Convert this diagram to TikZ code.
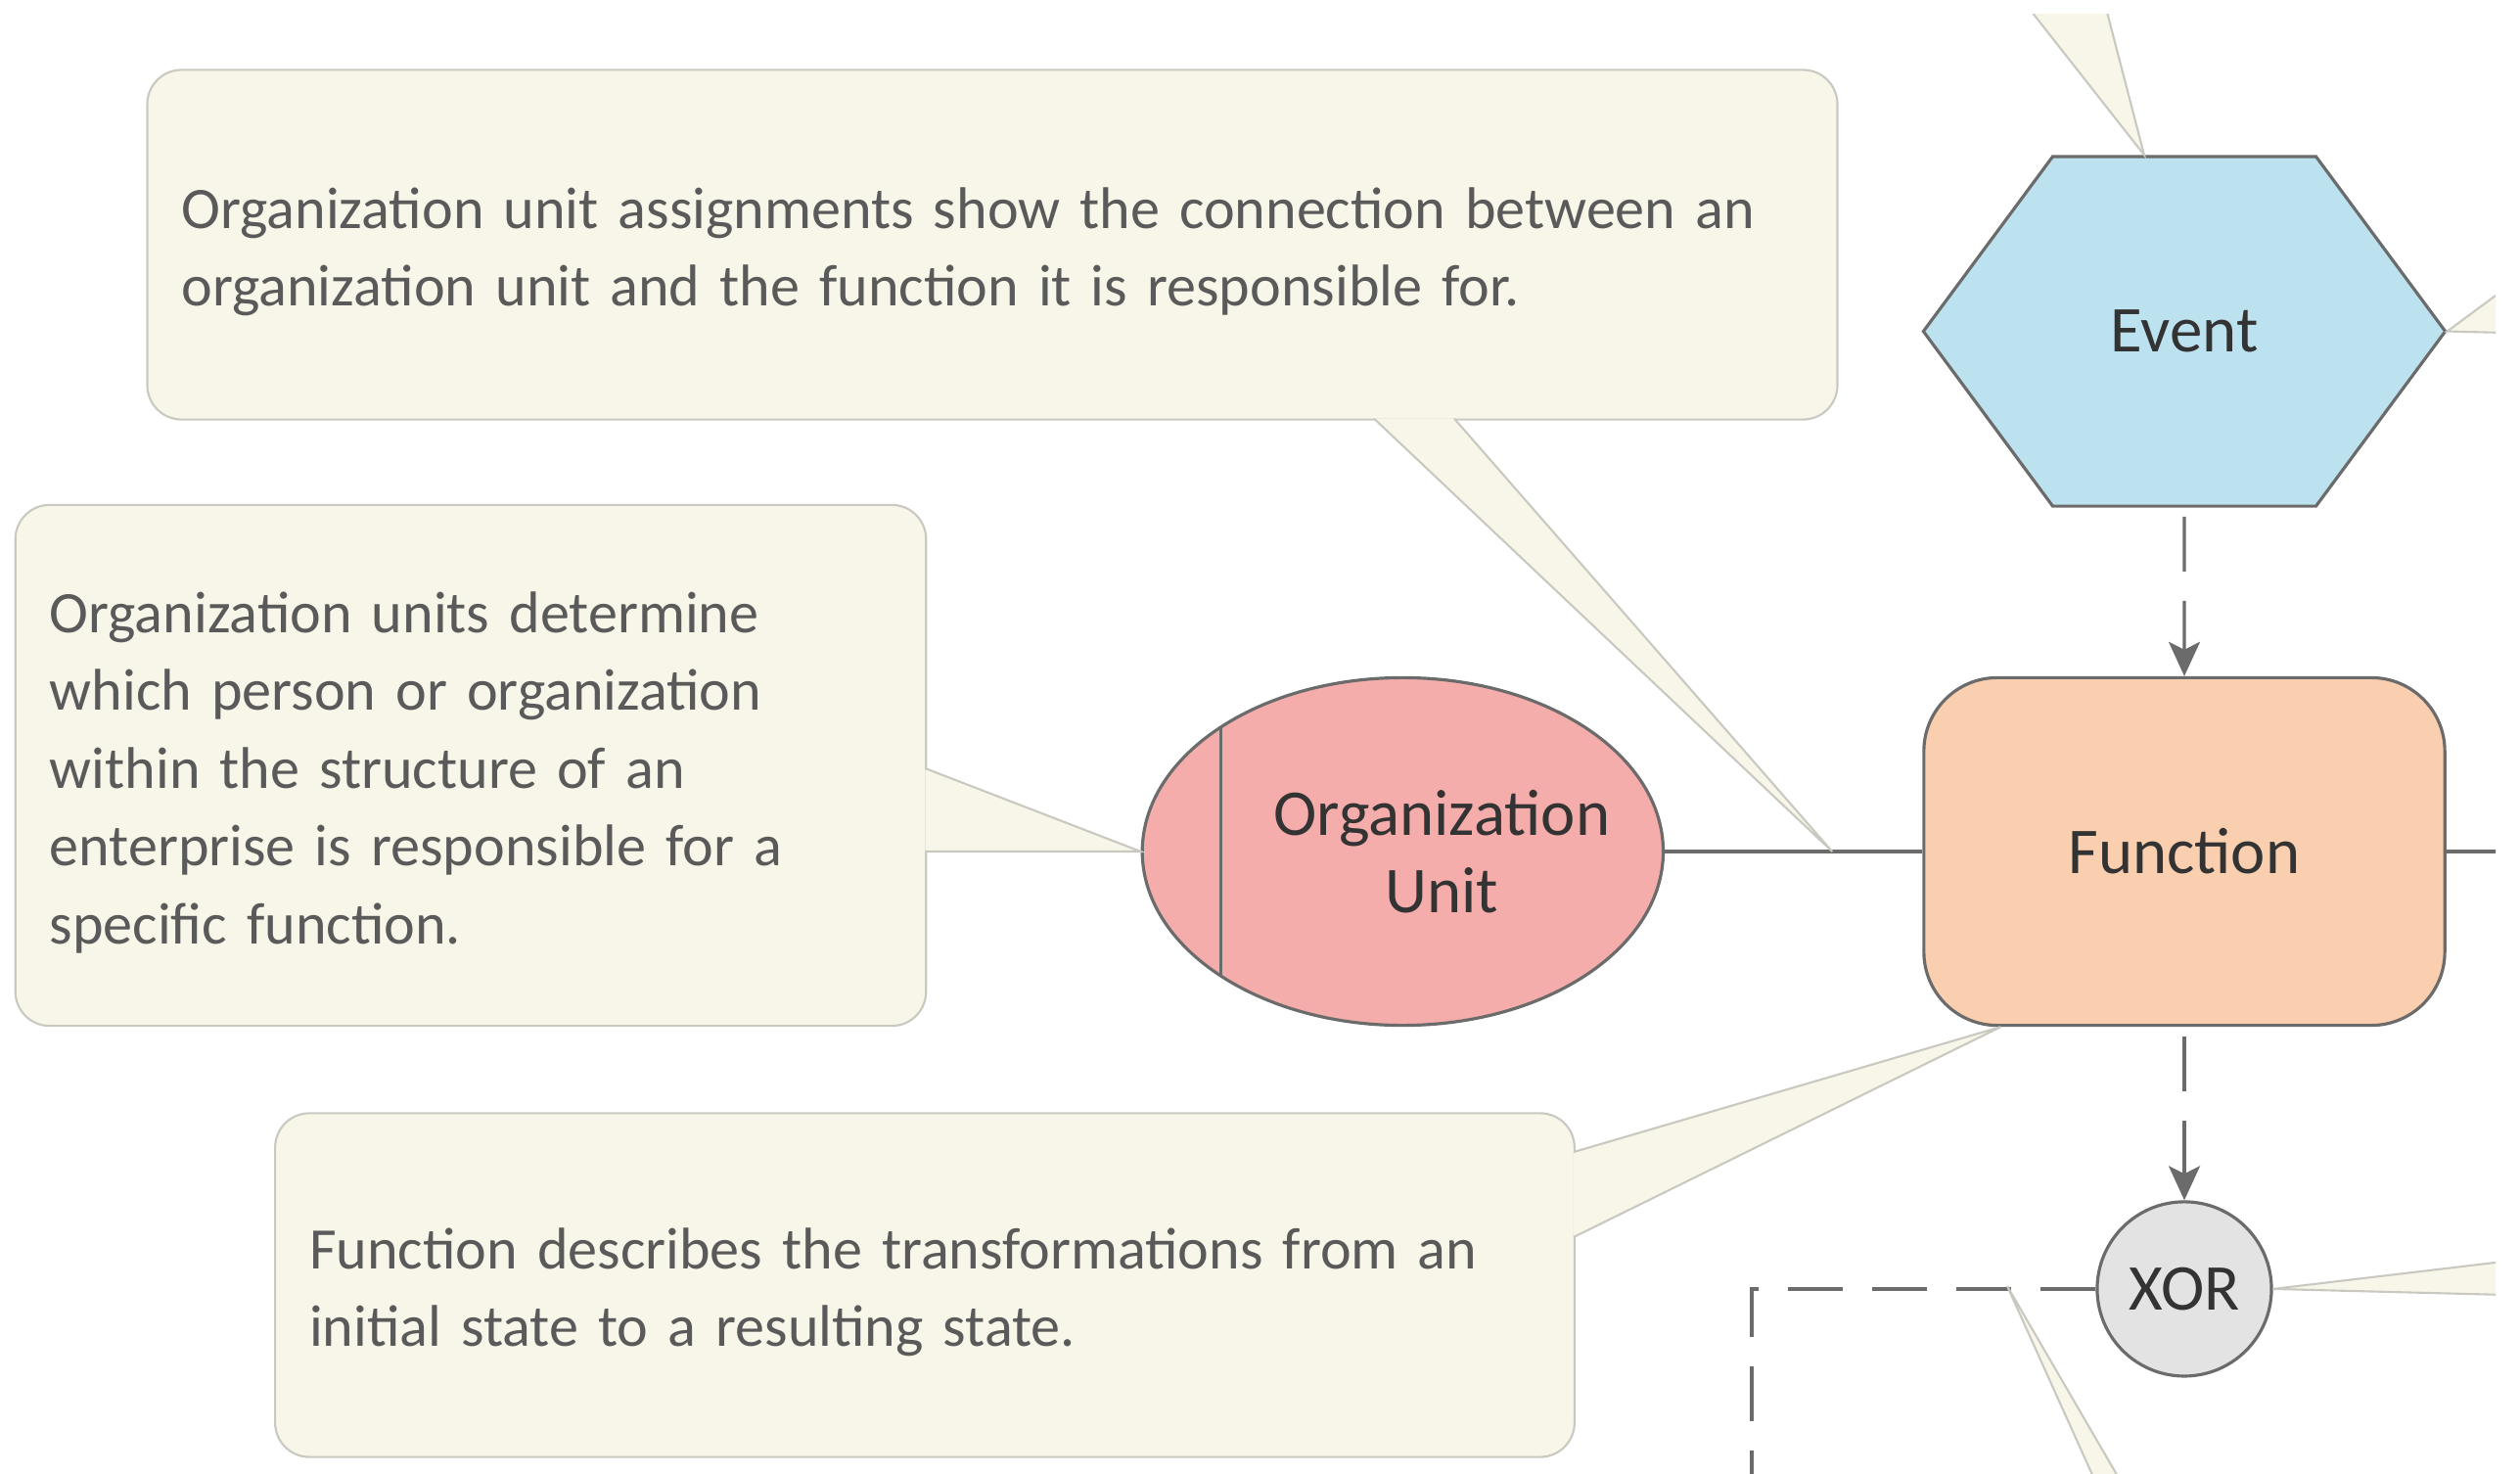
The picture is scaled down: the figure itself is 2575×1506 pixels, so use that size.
\documentclass[tikz,border=0pt]{standalone}
\usepackage{fontspec}
\setmainfont{Carlito}
\usetikzlibrary{positioning,calc,arrows.meta,shapes.geometric,shapes.symbols}
\definecolor{note-fill}{HTML}{F8F6E8}
\definecolor{note-line}{HTML}{C9C9C1}
\definecolor{note-text}{HTML}{5A5A5A}
\definecolor{shape-line}{HTML}{6B6B6B}
\definecolor{event-fill}{HTML}{BDE2EF}
\definecolor{function-fill}{HTML}{F9CFAF}
\definecolor{orgunit-fill}{HTML}{F4ADAA}
\definecolor{xor-fill}{HTML}{E3E3E3}
\tikzset{
    note-box/.style = {draw=note-line, fill=note-fill, line width=0.6pt, rectangle, rounded corners=0.35cm, align=left, text=note-text, font=\fontsize{17.1}{22.6}\selectfont, inner xsep=0.35cm, execute at begin node={\rule{0pt}{16pt}}},
    note-pointer/.style = {draw=note-line, fill=note-fill, line width=0.6pt, line join=miter},
    epc-node/.style = {draw=shape-line, line width=0.9pt, text=black!80, font=\fontsize{19}{22.4}\selectfont, align=center, inner sep=0pt},
    epc-event/.style = {epc-node, signal, signal to=east and west, signal pointer angle=107, fill=event-fill, minimum width=5.33cm, minimum height=3.57cm},
    epc-function/.style = {epc-node, rectangle, rounded corners=0.75cm, fill=function-fill, minimum width=5.32cm, minimum height=3.55cm},
    epc-orgunit/.style = {epc-node, ellipse, fill=orgunit-fill, minimum width=5.32cm, minimum height=3.55cm,
        path picture={\draw[shape-line, line width=0.9pt] ([xshift=0.8cm]path picture bounding box.north west) -- ([xshift=0.8cm]path picture bounding box.south west);}},
    epc-label/.style = {text=black!80, font=\fontsize{19}{22.4}\selectfont, align=center, inner sep=0pt},
    epc-xor/.style = {epc-node, circle, fill=xor-fill, minimum size=1.78cm},
    flow-line/.style = {draw=shape-line, line width=0.9pt},
    flow-dash/.style = {flow-line, dash pattern=on 0.56cm off 0.3cm},
    flow-arrow/.style = {flow-dash, -{Stealth[length=0.35cm, width=0.32cm, inset=0.08cm]}},
}
\begin{document}
\begin{tikzpicture}[x=0.01cm, y=-0.01cm]
\useasboundingbox (0,0) rectangle (2575,1506);
\clip (0,14) rectangle (2550,1506);

% EPC elements
\node[epc-function] (function) at (2232,870) {Function};
\node[epc-event, above=1.72cm of function] (event) {Event};
\node[epc-xor, below=1.77cm of function] (xor) {XOR};
\node[epc-orgunit, left=2.63cm of function] (orgunit) {};
\node[epc-label] (orgunit-label) at ([xshift=0.4cm]orgunit.center) {Organization\\Unit};

% connections
\coordinate (function-exit) at (2600,870);
\coordinate (xor-exit) at (1790,1560);
\draw[flow-arrow, shorten <=0.09cm] (event) -- (function);
\draw[flow-arrow, shorten <=0.1cm] (function) -- (xor);
\draw[flow-line] (orgunit) -- (function);
\draw[flow-line] (function) -- (function-exit);
\draw[flow-dash] (xor) -| (xor-exit);

% notes
\node[note-box, text width=16.56cm, minimum height=3.57cm] (note-assign) at (1014,250) {Organization unit assignments show the connection between an\\organization unit and the function it is responsible for.};
\node[note-box, text width=8.60cm, minimum height=5.32cm] (note-orgunit) at (481,782) {Organization units determine\\which person or organization\\within the structure of an\\enterprise is responsible for a\\specific function.};
\node[note-box, text width=12.57cm, minimum height=3.51cm] (note-function) at (945,1313) {Function describes the transformations from an\\initial state to a resulting state.};

% note pointers
\coordinate (assign-tip) at ($(orgunit.east)!0.65!(function.west)$);
\coordinate (xor-note-tip) at (2051,1314);
\filldraw[note-pointer] ([shift={(390,-2)}]note-assign.south) -- (assign-tip) -- ([shift={(472,-2)}]note-assign.south);
\filldraw[note-pointer] ([shift={(-2,3)}]note-orgunit.east) -- (orgunit.west) -- ([shift={(-2,88)}]note-orgunit.east);
\filldraw[note-pointer] ([shift={(-2,-136)}]note-function.east) -- ([xshift=0.8cm]function.south west) -- ([shift={(-2,-49)}]note-function.east);
\filldraw[note-pointer] (2043,-30) -- ([xshift=-0.41cm]event.north) -- (2142,-30);
\filldraw[note-pointer] (2600,265) -- (event.east) -- (2600,341);
\filldraw[note-pointer] (2600,1284) -- (xor.east) -- (2600,1324);
\filldraw[note-pointer] (2162,1560) -- (xor-note-tip) -- (2194,1560);
\end{tikzpicture}
\end{document}
